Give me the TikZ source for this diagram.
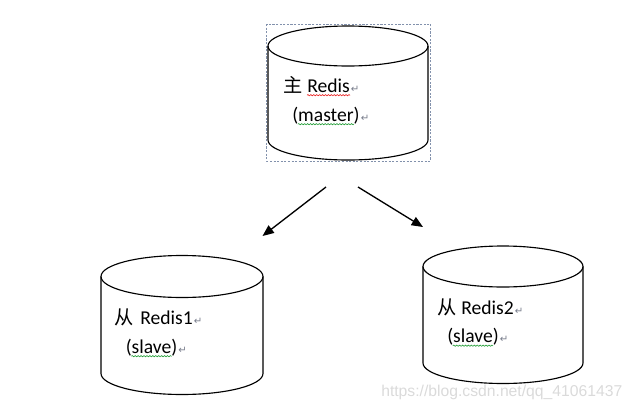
\documentclass[tikz,border=0pt]{standalone}
\usepackage{fontspec}
\setmainfont{Carlito}
\newfontfamily\cjkfont{Noto Sans CJK SC}
\newfontfamily\symfont{DejaVu Sans}
\newfontfamily\wmfont{Liberation Sans}
\usetikzlibrary{arrows.meta,decorations.pathmorphing}
\definecolor{boxcol}{RGB}{130,145,172}
\definecolor{parcol}{RGB}{120,125,140}
\definecolor{wavered}{RGB}{235,40,40}
\definecolor{wavegreen}{RGB}{40,160,60}
\definecolor{wmcol}{RGB}{218,218,218}
\newcommand\redisdb[5]{% cx, ytop, ybottom, rx, ry
  \draw[cylline] (#1,-#2) ellipse[x radius=#4,y radius=#5];
  \draw[cylline] (#1-#4,-#2) -- (#1-#4,-#3)
     arc[start angle=180,end angle=360,x radius=#4,y radius=#5] -- (#1+#4,-#2);
}
\begin{document}
\begin{tikzpicture}[x=0.75pt,y=0.75pt,
  cylline/.style={line width=0.85pt,black},
  txt/.style={inner sep=0pt,anchor=base west,font=\fontsize{14.7}{17}\selectfont},
  cjk/.style={inner sep=0pt,anchor=base west,font=\cjkfont\fontsize{14.4}{17}\selectfont},
  parmark/.style={inner sep=0pt,anchor=base west,xshift=0.5pt,text=parcol,font=\symfont\fontsize{7.6}{8}\selectfont},
  wavy/.style={decorate,decoration={snake,amplitude=0.45pt,segment length=2.2pt},line width=0.5pt},
  selbox/.style={draw=boxcol,line width=0.6pt,dash pattern=on 1.6pt off 1.1pt},
  link/.style={line width=1pt,-{Triangle[length=8.5pt,width=7pt]}}]
\useasboundingbox (0,0) rectangle (633,-408);

% master selection box
\draw[selbox] (266.5,-24) rectangle (430.5,-161);

% cylinders
\redisdb{348}{46}{140}{80}{20}
\redisdb{182}{276.5}{373.5}{81}{21}
\redisdb{503}{266.5}{363}{80}{20.5}

% master texts
\node[cjk] (mz) at (283.5,-92) {主};
\node[txt] (mr) at (307,-92) {Redis};
\node[parmark] (mrp) at (mr.base east) {↵};
\node[txt] (mm) at (292,-121) {(master)};
\node[parmark] (mmp) at (mm.base east) {↵};
\draw[wavy,wavered] ([yshift=-2.4pt]mr.base west) -- ([yshift=-2.4pt]mr.base east);
\draw[wavy,wavegreen] ([xshift=4.4pt,yshift=-2.4pt]mm.base west) -- ([xshift=-4.4pt,yshift=-2.4pt]mm.base east);

% slave 1 texts
\node[cjk] (az) at (114.5,-324) {从};
\node[txt] (ar) at (140,-324) {Redis1};
\node[parmark] (arp) at (ar.base east) {↵};
\node[txt] (as) at (125.5,-353) {(slave)};
\node[parmark] (asp) at (as.base east) {↵};
\draw[wavy,wavegreen] ([xshift=4.4pt,yshift=-2.4pt]as.base west) -- ([xshift=-4.4pt,yshift=-2.4pt]as.base east);

% slave 2 texts
\node[cjk] (bz) at (437,-314) {从};
\node[txt] (br) at (461,-314) {Redis2};
\node[parmark] (brp) at (br.base east) {↵};
\node[txt] (bs) at (447,-342.5) {(slave)};
\node[parmark] (bsp) at (bs.base east) {↵};
\draw[wavy,wavegreen] ([xshift=4.4pt,yshift=-2.4pt]bs.base west) -- ([xshift=-4.4pt,yshift=-2.4pt]bs.base east);

% arrows
\coordinate (l1s) at (326,-187);
\coordinate (l1e) at (262.5,-236);
\coordinate (l2s) at (358,-187);
\coordinate (l2e) at (423,-227);
\draw[link] (l1s) -- (l1e);
\draw[link] (l2s) -- (l2e);

% watermark
\node[inner sep=0pt,anchor=base west,text=wmcol,font=\wmfont\fontsize{11.78}{13}\selectfont] (wm) at (381,-396.5) {https://blog.csdn.net/qq\_41061437};
\end{tikzpicture}
\end{document}
